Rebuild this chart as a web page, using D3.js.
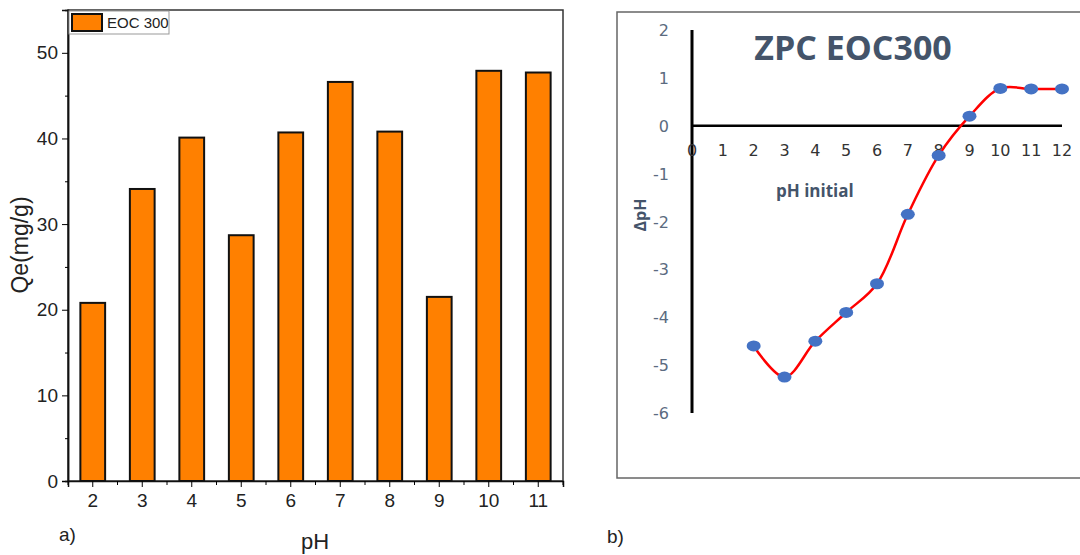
<!DOCTYPE html>
<html>
<head>
<meta charset="utf-8">
<script src="https://cdn.jsdelivr.net/npm/d3@7"></script>
<style>
  body { margin: 0; background: #fff; }
  svg { display: block; }
</style>
</head>
<body>
<svg id="chart" width="1080" height="555"></svg>
<script>
// a) adsorption vs pH
var phCats = ["2", "3", "4", "5", "6", "7", "8", "9", "10", "11"];
var qeValues = [20.8, 34.1, 40.1, 28.7, 40.7, 46.6, 40.8, 21.5, 47.9, 47.7];
var qeTicks = [0, 10, 20, 30, 40, 50];

// b) ZPC curve
var phInitial = [2, 3, 4, 5, 6, 7, 8, 9, 10, 11, 12];
var deltaPh = [-4.6, -5.25, -4.5, -3.9, -3.3, -1.85, -0.62, 0.2, 0.78, 0.77, 0.77];
var zpcXTicks = [0, 1, 2, 3, 4, 5, 6, 7, 8, 9, 10, 11, 12];
var zpcYTicks = [2, 1, 0, -1, -2, -3, -4, -5, -6];

var svg = d3.select("#chart");
var narrow = "Liberation Sans Narrow, Liberation Sans, Arial";

// ---------- left: bar chart ----------
var left = {x0: 68, x1: 563, top: 10, bottom: 481};
var xBar = d3.scaleBand().domain(phCats).range([left.x0, left.x1]).paddingInner(0.5).paddingOuter(0.25);
var yBar = d3.scaleLinear().domain([0, 55]).range([left.bottom, left.top]);

// frame
svg.append("rect")
    .attr("x", left.x0).attr("y", left.top)
    .attr("width", left.x1 - left.x0).attr("height", left.bottom - left.top)
    .attr("fill", "none").attr("stroke", "#333").attr("stroke-width", 1.5);

svg.selectAll(".bar")
    .data(qeValues)
    .enter().append("rect")
    .attr("class", "bar")
    .attr("x", function (d, i) { return xBar(phCats[i]); })
    .attr("y", function (d) { return yBar(d); })
    .attr("width", xBar.bandwidth())
    .attr("height", function (d) { return yBar(0) - yBar(d); })
    .attr("fill", "#ff8000")
    .attr("stroke", "#111")
    .attr("stroke-width", 2);

// y axis
var yAxisL = svg.append("g")
    .attr("transform", "translate(" + left.x0 + ",0)")
    .call(d3.axisLeft(yBar).tickValues(qeTicks).tickSize(6).tickPadding(4));
yAxisL.selectAll("text").style("font-size", "19px").attr("font-family", narrow).attr("fill", "#222");
// minor ticks
svg.append("g")
    .attr("transform", "translate(" + left.x0 + ",0)")
    .call(d3.axisLeft(yBar).tickValues([5, 15, 25, 35, 45]).tickSize(3).tickFormat(""));

// x axis
var xAxisL = svg.append("g")
    .attr("transform", "translate(0," + left.bottom + ")")
    .call(d3.axisBottom(xBar).tickSize(6).tickPadding(7));
xAxisL.selectAll("text").style("font-size", "19px").attr("font-family", narrow).attr("fill", "#222");
var minorX = phCats.map(function (c) { return xBar(c) + xBar.bandwidth() / 2 + xBar.step() / 2; });
minorX.unshift(xBar(phCats[0]) + xBar.bandwidth() / 2 - xBar.step() / 2);
svg.append("g").selectAll("line")
    .data(minorX)
    .enter().append("line")
    .attr("x1", function (d) { return d; }).attr("x2", function (d) { return d; })
    .attr("y1", left.bottom).attr("y2", left.bottom + 4)
    .attr("stroke", "#000");
svg.selectAll(".domain").attr("stroke", "#111").attr("stroke-width", 1.5);

// legend
svg.append("rect").attr("x", 69).attr("y", 11).attr("width", 100).attr("height", 23)
    .attr("fill", "#fff").attr("stroke", "#999");
svg.append("rect").attr("x", 72).attr("y", 14).attr("width", 30).attr("height", 17)
    .attr("fill", "#ff8000").attr("stroke", "#111").attr("stroke-width", 2);
svg.append("text").attr("x", 107).attr("y", 28).text("EOC 300")
    .style("font-size", "15px").attr("font-family", narrow).attr("fill", "#222");

svg.append("text")
    .attr("transform", "translate(28,245)rotate(-90)")
    .attr("text-anchor", "middle")
    .style("font-size", "23px").attr("font-family", narrow).attr("fill", "#222")
    .text("Qe(mg/g)");
svg.append("text").attr("x", 315).attr("y", 549).attr("text-anchor", "middle")
    .style("font-size", "22px").attr("font-family", narrow).attr("fill", "#222")
    .text("pH");
svg.append("text").attr("x", 59).attr("y", 541)
    .style("font-size", "19px").attr("font-family", "Liberation Sans, Arial").attr("fill", "#222")
    .text("a)");

// ---------- right: ZPC ----------
svg.append("rect").attr("x", 617).attr("y", 12).attr("width", 480).attr("height", 466)
    .attr("fill", "none").attr("stroke", "#666").attr("stroke-width", 1.5);

var xZ = d3.scaleLinear().domain([0, 12]).range([692, 1062]);
var yZ = d3.scaleLinear().domain([-6, 2]).range([413, 30]);
var blueGray = "#44546a";

svg.append("line").attr("x1", xZ(0)).attr("x2", xZ(0)).attr("y1", yZ(2)).attr("y2", yZ(-6))
    .attr("stroke", "#000").attr("stroke-width", 3);
svg.append("line").attr("x1", xZ(0)).attr("x2", xZ(12)).attr("y1", yZ(0)).attr("y2", yZ(0))
    .attr("stroke", "#000").attr("stroke-width", 2.5);

svg.append("g").selectAll("text")
    .data(zpcYTicks)
    .enter().append("text")
    .attr("x", 669).attr("y", function (d) { return yZ(d) + 6; })
    .attr("text-anchor", "end")
    .style("font-size", "16px").attr("font-family", "DejaVu Sans, Verdana").attr("fill", "#5b6b80")
    .text(function (d) { return d; });

svg.append("g").selectAll("text")
    .data(zpcXTicks)
    .enter().append("text")
    .attr("x", function (d) { return xZ(d); }).attr("y", yZ(0) + 30)
    .attr("text-anchor", "middle")
    .style("font-size", "16px").attr("font-family", "DejaVu Sans, Verdana").attr("fill", "#333")
    .text(function (d) { return d; });

var pts = phInitial.map(function (d, i) { return [xZ(d), yZ(deltaPh[i])]; });
svg.append("path")
    .attr("d", d3.line().curve(d3.curveCatmullRom.alpha(0.5))(pts))
    .attr("fill", "none").attr("stroke", "#ff0000").attr("stroke-width", 2.5);
svg.selectAll(".pt")
    .data(pts)
    .enter().append("ellipse")
    .attr("class", "pt")
    .attr("cx", function (d) { return d[0]; }).attr("cy", function (d) { return d[1]; })
    .attr("rx", 7).attr("ry", 5.5)
    .attr("fill", "#4472c4");

svg.append("text").attr("x", 853).attr("y", 60).attr("text-anchor", "middle")
    .style("font-size", "34px").style("font-weight", "bold").attr("font-family", "Open Sans, DejaVu Sans")
    .attr("fill", blueGray).text("ZPC EOC300");
svg.append("text").attr("x", 776).attr("y", 197)
    .style("font-size", "17px").style("font-weight", "bold").attr("font-family", "Open Sans, DejaVu Sans")
    .attr("fill", blueGray).text("pH initial");
svg.append("text")
    .attr("transform", "translate(646,215)rotate(-90)")
    .attr("text-anchor", "middle")
    .style("font-size", "16px").style("font-weight", "bold").attr("font-family", "Open Sans, DejaVu Sans")
    .attr("fill", blueGray).text("ΔpH");
svg.append("text").attr("x", 607).attr("y", 543)
    .style("font-size", "19px").attr("font-family", "Liberation Sans, Arial").attr("fill", "#222")
    .text("b)");
</script>
</body>
</html>
